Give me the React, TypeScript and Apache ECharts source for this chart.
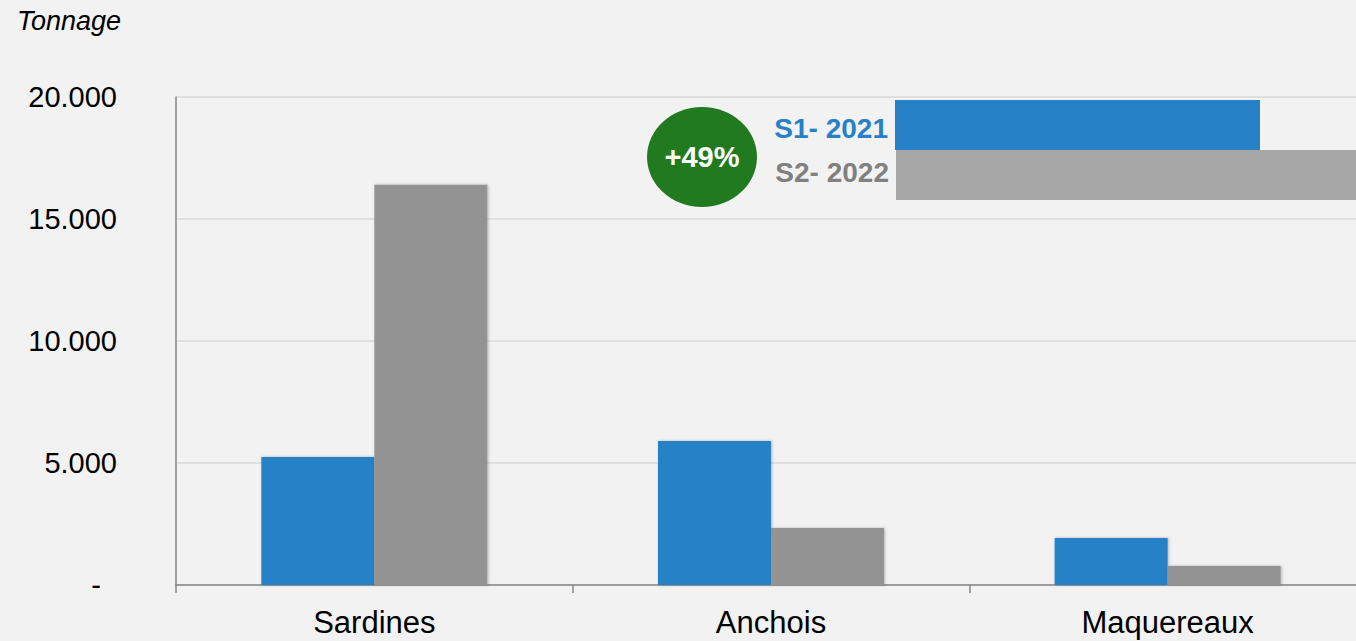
import React, { useEffect, useRef } from "react";
import * as echarts from "echarts";

const categories = ["Sardines", "Anchois", "Maquereaux"];
const s1Values = [5250, 5900, 1930];
const s2Values = [16400, 2340, 780];
const yTickLabels: Record<number, string> = {
  0: "-",
  5000: "5.000",
  10000: "10.000",
  15000: "15.000",
  20000: "20.000",
};
const seriesNames = ["S1- 2021", "S2- 2022"];
const growthLabel = "+49%";
const yAxisTitle = "Tonnage";

const FONT = "'Liberation Sans', Arial, sans-serif";

export default function App() {
  const ref = useRef<HTMLDivElement>(null);
  useEffect(() => {
    if (!ref.current) return;
    const chart = echarts.init(ref.current, null, { renderer: "svg" });
    const barStyle = (color: string) => ({
      color,
      shadowBlur: 3,
      shadowColor: "rgba(0,0,0,0.25)",
      shadowOffsetX: 1,
      shadowOffsetY: 0,
    });
    chart.setOption({
      animation: false,
      backgroundColor: "#f2f2f2",
      textStyle: { fontFamily: FONT },
      grid: { left: 176, right: 0, top: 97, bottom: 56, containLabel: false },
      xAxis: {
        type: "category",
        data: categories,
        axisLine: { show: true, lineStyle: { color: "#868686", width: 1.5 } },
        axisTick: { show: true, length: 8, lineStyle: { color: "#868686", width: 1.5 } },
        axisLabel: { color: "#000", fontSize: 31, margin: 22, fontFamily: FONT },
      },
      yAxis: {
        type: "value",
        min: 0,
        max: 20000,
        interval: 5000,
        axisLine: { show: true, lineStyle: { color: "#868686", width: 1.5 } },
        axisTick: { show: false },
        splitLine: { show: true, lineStyle: { color: "#d9d9d9", width: 1.5 } },
        axisLabel: {
          color: "#000",
          fontSize: 29,
          margin: 59,
          fontFamily: FONT,
          formatter: (v: number) => (v === 0 ? "{z|-}" : yTickLabels[v] ?? String(v)),
          rich: { z: { fontSize: 29, color: "#000", padding: [0, 16, 0, 0], fontFamily: FONT } },
        },
      },
      series: [
        {
          name: seriesNames[0],
          type: "bar",
          data: s1Values,
          barWidth: 113,
          barGap: "0%",
          itemStyle: barStyle("#2681c7"),
        },
        {
          name: seriesNames[1],
          type: "bar",
          data: s2Values,
          barWidth: 113,
          barGap: "0%",
          itemStyle: barStyle("#939393"),
        },
      ],
      graphic: [
        {
          type: "text",
          x: 17,
          y: 21,
          style: {
            text: yAxisTitle,
            font: `italic 27px ${FONT}`,
            fill: "#000",
            textAlign: "left",
            textVerticalAlign: "middle",
          },
        },
        {
          type: "ellipse",
          shape: { cx: 702, cy: 157, rx: 55, ry: 50 },
          style: { fill: "#217a1f" },
        },
        {
          type: "text",
          x: 702,
          y: 157,
          style: {
            text: growthLabel,
            font: `bold 29px ${FONT}`,
            fill: "#fff",
            textAlign: "center",
            textVerticalAlign: "middle",
            shadowBlur: 3,
            shadowColor: "rgba(0,0,0,0.6)",
            shadowOffsetX: 1,
            shadowOffsetY: 1,
          },
        },
        {
          type: "text",
          x: 888,
          y: 128,
          style: {
            text: seriesNames[0],
            font: `bold 28px ${FONT}`,
            fill: "#2681c7",
            textAlign: "right",
            textVerticalAlign: "middle",
          },
        },
        {
          type: "text",
          x: 889,
          y: 172,
          style: {
            text: seriesNames[1],
            font: `bold 28px ${FONT}`,
            fill: "#808080",
            textAlign: "right",
            textVerticalAlign: "middle",
          },
        },
        {
          type: "rect",
          shape: { x: 895, y: 100, width: 365, height: 50 },
          style: { fill: "#2681c7" },
        },
        {
          type: "rect",
          shape: { x: 896, y: 150, width: 470, height: 50 },
          style: { fill: "#a6a6a6" },
        },
      ],
    });
    return () => chart.dispose();
  }, []);
  return (
    <div
      style={{
        position: "absolute",
        left: 0,
        top: 0,
        width: 1356,
        height: 641,
        overflow: "hidden",
      }}
    >
      <div ref={ref} style={{ width: 1366, height: 641 }} />
    </div>
  );
}
